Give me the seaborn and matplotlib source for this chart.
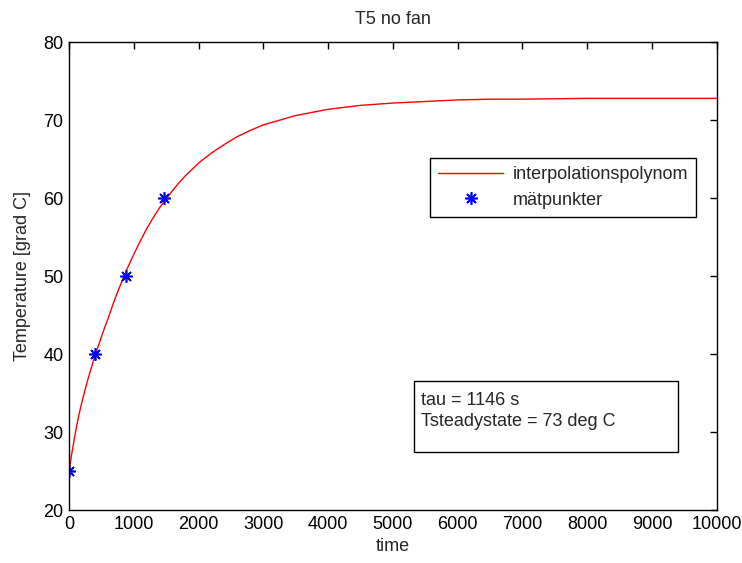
import matplotlib
matplotlib.use("Agg")
import matplotlib.pyplot as plt
import matplotlib.patches as mpatches
import pandas as pd
import seaborn as sns

# Fitted heating curve (time in s, temperature in deg C)
curve_time = [0, 50, 100, 150, 200, 250, 300, 350, 400, 450, 500, 550, 600,
              700, 800, 900, 1000, 1100, 1200, 1300, 1400, 1500, 1600, 1700,
              1800, 1900, 2000, 2200, 2400, 2600, 2800, 3000, 3250, 3500,
              3750, 4000, 4500, 5000, 5500, 6000, 6500, 7000, 8000, 9000,
              10000]
curve_temp = [25.0, 27.6, 30.0, 32.1, 33.9, 35.5, 37.0, 38.4, 39.8, 41.0,
              42.2, 43.4, 44.5, 46.9, 49.0, 51.0, 52.8, 54.5, 56.1, 57.5,
              58.8, 59.9, 61.0, 62.0, 62.9, 63.7, 64.5, 65.8, 66.9, 67.9,
              68.7, 69.4, 70.0, 70.6, 71.0, 71.4, 71.9, 72.2, 72.4, 72.6,
              72.7, 72.7, 72.8, 72.8, 72.8]

# Measured points
meas_time = [0, 400, 880, 1470]
meas_temp = [25, 40, 50, 60]

tau_s = 1146
t_steady = 73

x_ticks = [0, 1000, 2000, 3000, 4000, 5000, 6000, 7000, 8000, 9000, 10000]
y_ticks = [20, 30, 40, 50, 60, 70, 80]

sns.set_style("white")
plt.rcParams["font.family"] = ["Liberation Sans", "DejaVu Sans"]
plt.rcParams["font.size"] = 13

curve_df = pd.DataFrame({"time": curve_time, "temp": curve_temp})
meas_df = pd.DataFrame({"time": meas_time, "temp": meas_temp})

fig = plt.figure(figsize=(7.42, 5.63), dpi=100)
ax = fig.add_axes([0.093, 0.094, 0.873, 0.831])

sns.lineplot(data=curve_df, x="time", y="temp", ax=ax, color="#ff0000",
             linewidth=1.0, estimator=None, sort=False,
             label="interpolationspolynom")
sns.lineplot(data=meas_df, x="time", y="temp", ax=ax, color="#0000ff",
             linestyle="", marker=(8, 2, 0), markersize=9,
             markeredgewidth=1.2, markeredgecolor="#0000ff",
             estimator=None, sort=False, label="mätpunkter")

ax.set_xlim(0, 10000)
ax.set_ylim(20, 80)
ax.set_xticks(x_ticks)
ax.set_yticks(y_ticks)
ax.set_xticklabels([str(v) for v in x_ticks])
ax.set_yticklabels([str(v) for v in y_ticks])
ax.tick_params(direction="in", length=5, width=1, top=True, right=True,
               colors="black", labelsize=13, pad=4)
for sp in ax.spines.values():
    sp.set_visible(True)
    sp.set_color("black")
    sp.set_linewidth(1.0)

ax.set_title("T5 no fan", fontsize=13, pad=13)
ax.set_xlabel("time", fontsize=13, labelpad=4)
ax.set_ylabel("Temperature [grad C]", fontsize=13, labelpad=9)

leg = ax.legend(loc="upper right", bbox_to_anchor=(0.968, 0.752),
                frameon=True, fancybox=False, shadow=False,
                edgecolor="black", framealpha=1, fontsize=13,
                handlelength=3.6, borderpad=0.45, labelspacing=0.45,
                handletextpad=0.5, borderaxespad=0)
leg.get_frame().set_linewidth(1.0)

box = mpatches.Rectangle((0.532, 0.124), 0.408, 0.152, transform=ax.transAxes,
                         fill=False, edgecolor="black", linewidth=1.0)
ax.add_patch(box)
ax.text(0.543, 0.2115,
        f"tau = {tau_s} s\nTsteadystate = {t_steady} deg C",
        transform=ax.transAxes, va="center", ha="left", fontsize=13,
        linespacing=1.3)

fig.savefig("out.png", dpi=100, facecolor="white")
